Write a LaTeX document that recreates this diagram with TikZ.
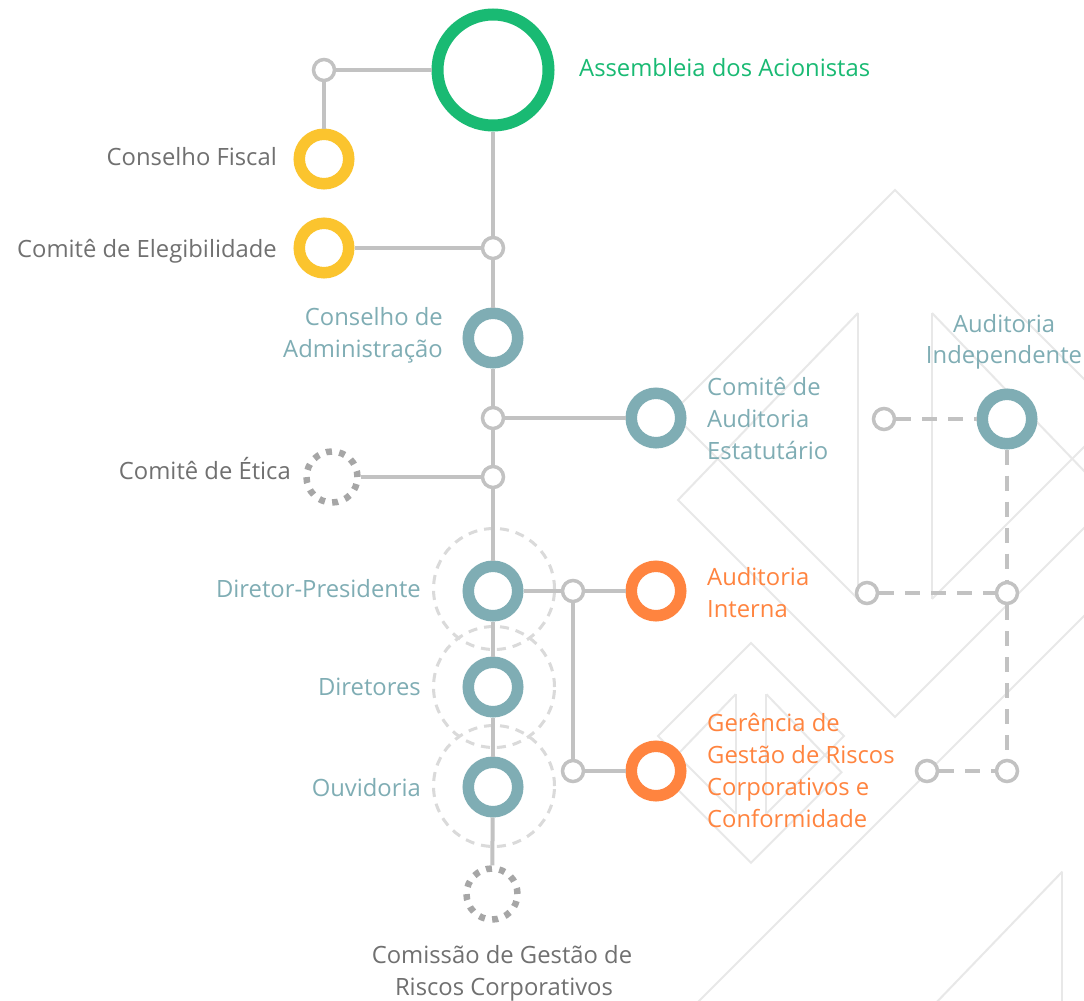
\documentclass[tikz,border=0pt]{standalone}
\usepackage{fontspec}
\setmainfont{Open Sans}
\definecolor{cgreen}{HTML}{19BA73}
\definecolor{cyellow}{HTML}{FBC42E}
\definecolor{cteal}{HTML}{7FADB4}
\definecolor{corange}{HTML}{FF843F}
\definecolor{linegray}{HTML}{C2C2C2}
\definecolor{dotgray}{HTML}{A6A6A6}
\definecolor{halogray}{HTML}{DADADA}
\definecolor{bggray}{HTML}{E8E8E8}
\definecolor{txtgray}{HTML}{707070}
\newcommand{\bglogo}[3]{%
  \begin{scope}[shift={(#1,#2)},scale=#3]
    \draw[bgline] (-37,409) -- (-223,223) -- (0,0) -- (223,223) -- (37,409);
    \draw[bgline] (-37,123) -- (-37,409) (37,123) -- (37,409);
    \draw[bgline] (-37,123) -- (-217,310) -- (0,527) -- (217,310) -- (37,123);
  \end{scope}}
\tikzset{
  bgline/.style={draw=bggray, line width=2pt},
  ring/.style={circle, inner sep=0pt, minimum size=49.5pt, line width=11.5pt, draw=#1, fill=white},
  bigring/.style={circle, inner sep=0pt, minimum size=111pt, line width=12pt, draw=#1, fill=white},
  hub/.style={circle, inner sep=0pt, minimum size=21pt, line width=3.5pt, draw=linegray, fill=white},
  dotring/.style={circle, inner sep=0pt, minimum size=51pt, line width=6.5pt, draw=dotgray, dash pattern=on 6pt off 7.35pt},
  halo/.style={circle, inner sep=0pt, minimum size=121pt, line width=3pt, draw=halogray, dash pattern=on 9pt off 7pt},
  conn/.style={draw=linegray, line width=4pt},
  dconn/.style={draw=linegray, line width=4pt, dash pattern=on 15pt off 11pt},
  lbl/.style={inner sep=0pt, font=\fontsize{23.8}{32}\selectfont},
}
\begin{document}
\begin{tikzpicture}[x=1pt,y=-1pt]
\useasboundingbox (0,0) rectangle (1084,1001);
\fill[white] (0,0) rectangle (1084,1001);
% background pattern
\begin{scope}
  \clip (0,0) rectangle (1084,1001);
  \bglogo{895}{190}{1}
  \bglogo{751}{643}{0.417}
  \bglogo{1163}{537}{2.72}
\end{scope}
% halos
\node[halo] (h1) at (494,589) {};
\node[halo] (h2) at (494,687) {};
\node[halo] (h3) at (494,786) {};
% main nodes
\node[bigring=cgreen] (ga) at (493,70) {};
\node[hub] (c0) at (324,70) {};
\node[ring=cyellow] (cf) at (324,159) {};
\node[ring=cyellow] (ce) at (324,248) {};
\node[hub] (c1) at (493,248) {};
\node[ring=cteal] (ca) at (493,338) {};
\node[hub] (c2) at (493,418) {};
\node[ring=cteal] (cae) at (656,418) {};
\node[hub] (c3) at (493,477) {};
\node[dotring] (et) at (332,477) {};
\node[ring=cteal] (dp) at (493,591) {};
\node[ring=cteal] (dir) at (493,687) {};
\node[ring=cteal] (ouv) at (493,787) {};
\node[dotring] (cg) at (492,894) {};
\node[hub] (c4) at (573,591) {};
\node[hub] (c5) at (573,771) {};
\node[ring=corange] (ai) at (656,591) {};
\node[ring=corange] (gr) at (656,771) {};
\node[ring=cteal] (aind) at (1007,419) {};
\node[hub] (d1) at (884,419) {};
\node[hub] (d2) at (867,593) {};
\node[hub] (d3) at (1007,593) {};
\node[hub] (d4) at (927,771) {};
\node[hub] (d5) at (1007,771) {};
% solid connectors
\draw[conn] (c0) -- (ga);
\draw[conn] (c0) -- (cf);
\draw[conn] (ga) -- (c1);
\draw[conn] (ce) -- (c1);
\draw[conn] (c1) -- (ca);
\draw[conn] (ca) -- (c2);
\draw[conn] (c2) -- (cae);
\draw[conn] (c2) -- (c3);
\draw[conn] (c3) -- (et);
\draw[conn] (c3) -- (dp);
\draw[conn] (dp) -- (dir);
\draw[conn] (dir) -- (ouv);
\draw[conn] (ouv) -- (cg);
\draw[conn] (dp) -- (c4);
\draw[conn] (c4) -- (ai);
\draw[conn] (c4) -- (c5);
\draw[conn] (c5) -- (gr);
% dashed connectors
\draw[dconn] (d1) -- (aind);
\draw[dconn] (aind) -- (d3);
\draw[dconn] (d3) -- (d5);
\draw[dconn] (d2) -- (d3);
\draw[dconn] (d4) -- (d5);
% labels
\node[lbl, text=cgreen, anchor=base west] (t1) at (579,76) {Assembleia dos Acionistas};
\node[lbl, text=txtgray, anchor=base east] (t2) at (277,165) {Conselho Fiscal};
\node[lbl, text=txtgray, anchor=base east] (t3) at (277,257) {Comitê de Elegibilidade};
\node[lbl, text=cteal, anchor=base east] (t4a) at (443,325) {Conselho de};
\node[lbl, text=cteal, anchor=base east] (t4b) at (443,357) {Administração};
\node[lbl, text=cteal, anchor=base west] (t5a) at (707,395) {Comitê de};
\node[lbl, text=cteal, anchor=base west] (t5b) at (707,427) {Auditoria};
\node[lbl, text=cteal, anchor=base west] (t5c) at (707,459) {Estatutário};
\node[lbl, text=cteal, anchor=base] (t6a) at (1004,332) {Auditoria};
\node[lbl, text=cteal, anchor=base] (t6b) at (1004,363) {Independente};
\node[lbl, text=txtgray, anchor=base east] (t7) at (291,479) {Comitê de Ética};
\node[lbl, text=cteal, anchor=base east] (t8) at (421,597) {Diretor-Presidente};
\node[lbl, text=cteal, anchor=base east] (t9) at (421,695) {Diretores};
\node[lbl, text=cteal, anchor=base east] (t10) at (421,796) {Ouvidoria};
\node[lbl, text=corange, anchor=base west] (t11a) at (707,585) {Auditoria};
\node[lbl, text=corange, anchor=base west] (t11b) at (707,617) {Interna};
\node[lbl, text=corange, anchor=base west] (t12a) at (707,731) {Gerência de};
\node[lbl, text=corange, anchor=base west] (t12b) at (707,763) {Gestão de Riscos};
\node[lbl, text=corange, anchor=base west] (t12c) at (707,795) {Corporativos e};
\node[lbl, text=corange, anchor=base west] (t12d) at (707,827) {Conformidade};
\node[lbl, text=txtgray, anchor=base] (t13a) at (502,963) {Comissão de Gestão de};
\node[lbl, text=txtgray, anchor=base] (t13b) at (504,995) {Riscos Corporativos};
\end{tikzpicture}
\end{document}
